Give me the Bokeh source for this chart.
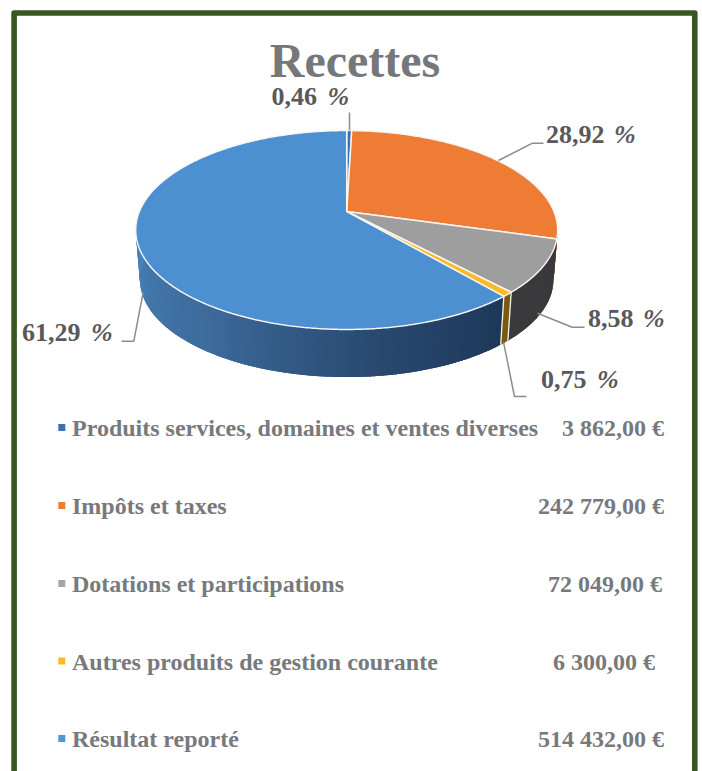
import math
from bokeh.plotting import figure
from bokeh.models import Range1d
from bokeh.core.properties import value
from bokeh.embed import file_html
from bokeh.resources import INLINE

# --- data -----------------------------------------------------------------
categories = ["Produits services, domaines et ventes diverses", "Impôts et taxes",
              "Dotations et participations", "Autres produits de gestion courante",
              "Résultat reporté"]
amounts = [3862.00, 242779.00, 72049.00, 6300.00, 514432.00]
amount_labels = ["3 862,00 €", "242 779,00 €", "72 049,00 €", "6 300,00 €", "514 432,00 €"]
percent_labels = ["0,46", "28,92", "8,58", "0,75", "61,29"]
title = "Recettes"

# --- styles and layout ----------------------------------------------------
top_colors = ["#3a70b8", "#ef7c35", "#9e9e9e", "#fdb827", "#4c90d2"]
legend_colors = ["#3c6fb6", "#ed7d31", "#a5a5a5", "#fdb827", "#4f96d6"]
blue_side_stops = [(140, "#1d3858"), (175, "#2a4a72"), (215, "#3c6b9c"), (265, "#4a82b8")]
side_flat = {0: "#24446e", 1: "#6f3a14", 2: "#3a3a3c", 3: "#7a5a10"}
FONT = value("Liberation Serif")
LABEL_GREY, LEGEND_GREY, TITLE_GREY, LEADER = "#59595b", "#77797c", "#76777a", "#8c8c8c"
FRAME = "#385723"

CX, CY, A, B, K = 346.2, 211.0, 96.0, 207.3, 0.186   # perspective of the top face
DROP, SHRINK = 50.0, 0.98                            # lower rim
BASE_FIX = 0.375                                     # text baseline correction, in em

label_pos = [(271, 106), (545.5, 144), (587.5, 328), (540.5, 389), (21.5, 342)]
pct_pos = [(327, 106), (613.5, 144), (642.5, 328), (596.5, 389), (90.5, 342)]
leaders = [[(349, 130), (349, 112)],
           [(498, 160), (532, 142.7), (543, 142.7)],
           [(537, 312.7), (571.7, 326.7), (584, 326.7)],
           [(503, 341.7), (514, 396), (526, 396)],
           [(142.7, 291.7), (133.3, 340.7), (121, 340.7)]]
legend_base = [436.5, 514.5, 592.5, 670, 747.7]
legend_text_x = 71.5
amount_right = [663.5, 663.5, 661.5, 654.5, 663.5]


def top_pt(deg):
    t = math.radians(deg)
    u, v = math.sin(t), math.cos(t)
    d = 1 + K * v
    return CX + B * u / d, CY - A * v / d


def low_pt(deg):
    t = math.radians(deg)
    u, v = math.sin(t), math.cos(t)
    d = 1 + K * v
    return CX + SHRINK * B * u / d, CY + DROP - SHRINK * A * v / d


def mix(stops, deg):
    if deg <= stops[0][0]:
        return stops[0][1]
    for (a, ca), (b, cb) in zip(stops, stops[1:]):
        if deg <= b:
            f = (deg - a) / (b - a)
            rgb = [round(int(ca[i:i + 2], 16) * (1 - f) + int(cb[i:i + 2], 16) * f) for i in (1, 3, 5)]
            return "#%02x%02x%02x" % tuple(rgb)
    return stops[-1][1]


total = sum(amounts)
edges = [0.0]
for a in amounts:
    edges.append(edges[-1] + 360.0 * a / total)

p = figure(width=702, height=771, x_range=Range1d(0, 702), y_range=Range1d(771, 0),
           x_axis_type=None, y_axis_type=None, toolbar_location=None,
           output_backend="svg", min_border=0, outline_line_color=None,
           background_fill_color="white", border_fill_color="white")
p.grid.visible = False

# frame
p.line([13.6, 13.6, 694.3, 694.3], [771, 12.5, 12.5, 771], line_color=FRAME, line_width=5.6,
       line_join="round")

# side wall, drawn as overlapping strips from rim to rim
xs, ys, cols = [], [], []
step = 1.0
for idx in range(5):
    lo, hi = max(edges[idx], 85.0), min(edges[idx + 1], 275.0)
    d = lo
    while d < hi - 1e-9:
        e = min(d + step, hi)
        f = min(d + 2.5 * step, hi)
        q = [top_pt(d), top_pt(f), low_pt(f), low_pt(d)]
        xs.append([c[0] for c in q])
        ys.append([c[1] for c in q])
        cols.append(mix(blue_side_stops, (d + e) / 2) if idx == 4 else side_flat[idx])
        d = e
p.patches(xs, ys, fill_color=cols, line_color=None)

# white seams on the wall
for d in (edges[3], edges[4]):
    a, b = top_pt(d), low_pt(d)
    p.line([a[0], b[0]], [a[1], b[1]], line_color="#f4f4f0", line_width=1.3)

# top face
for idx in range(5):
    n = max(int(edges[idx + 1] - edges[idx]), 2) * 2
    pts = [top_pt(edges[idx] + (edges[idx + 1] - edges[idx]) * i / n) for i in range(n + 1)]
    px = [CX] + [c[0] for c in pts]
    py = [CY] + [c[1] for c in pts]
    p.patch(px, py, fill_color=top_colors[idx], line_color="#f6f6f2", line_width=1.5)

# leaders
for seg in leaders:
    p.line([c[0] for c in seg], [c[1] for c in seg], line_color=LEADER, line_width=1.5)


def put(xv, yv, txt, size, color, style="bold", align="left"):
    p.text(xv, [y - BASE_FIX * size for y in yv], text=txt, text_font=FONT, text_font_style=style,
           text_font_size=f"{size}px", text_color=color, text_align=align, text_baseline="alphabetic")


put([354.5], [78], [title], 48, TITLE_GREY, align="center")
put([c[0] for c in label_pos], [c[1] for c in label_pos], percent_labels, 26, LABEL_GREY)
put([c[0] for c in pct_pos], [c[1] for c in pct_pos], ["%"] * 5, 26, LABEL_GREY, style="bold italic")

# legend
p.rect([61.3] * 5, [b - 9.6 for b in legend_base], width=7, height=7, fill_color=legend_colors,
       line_color=None)
put([legend_text_x] * 5, legend_base, categories, 24, LEGEND_GREY)
put(amount_right, legend_base, amount_labels, 24, LEGEND_GREY, align="right")

open("out.html", "w").write(file_html(p, INLINE))
